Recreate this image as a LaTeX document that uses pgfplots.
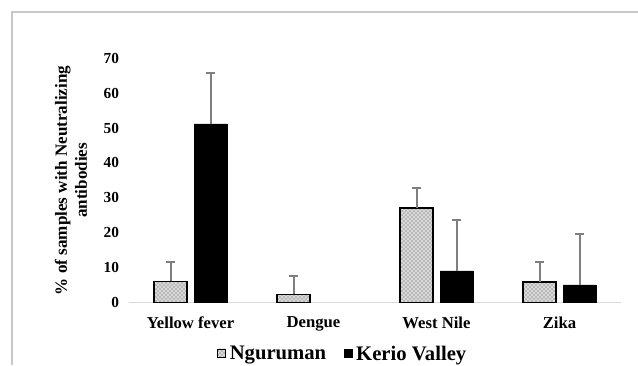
\documentclass[border=0pt]{standalone}
\usepackage{pgfplots}
\pgfplotsset{compat=1.18}
\usepackage{fontspec}
\setmainfont{Liberation Serif}
\usetikzlibrary{patterns}
\definecolor{frame}{RGB}{200,200,200}
\definecolor{errc}{RGB}{127,127,127}
\definecolor{axc}{RGB}{217,217,217}
\begin{document}
\begin{tikzpicture}
\useasboundingbox (0,0) rectangle (478.5pt,273.75pt);
\draw[frame, line width=0.9pt] (9pt,0) -- (9pt,264.75pt) -- (478.5pt,264.75pt);
\begin{axis}[
  at={(96.75pt,46.7pt)}, anchor=south west,
  scale only axis, width=369pt, height=183.5pt,
  xmin=-0.5, xmax=3.5, ymin=0, ymax=70,
  ytick={0,10,...,70},
  xtick={0,1,2,3},
  xticklabels={Yellow fever,Dengue,West Nile,Zika},
  axis lines*=left,
  y axis line style={draw=none},
  x axis line style={axc, line width=1.1pt},
  major tick length=0pt,
  yticklabel style={font=\bfseries\fontsize{11.5}{13}\selectfont, xshift=-4pt},
  xticklabel style={font=\bfseries\fontsize{12.5}{14}\selectfont, yshift=-7pt},
  /pgf/number format/assume math mode=true,
  ylabel={\% of samples with Neutralizing\\antibodies},
  ylabel style={at={(axis description cs:-0.118,0.5)}, anchor=center, align=center, font=\bfseries\fontsize{12.8}{15}\selectfont},
  ybar, bar width=24.75pt,
  legend style={at={(axis description cs:0.435,-0.2095)}, anchor=center, draw=none, fill=none,
    legend columns=2, font=\bfseries\fontsize{15.5}{17}\selectfont,
    /tikz/every even column/.append style={column sep=11pt},
    /tikz/every odd column/.append style={column sep=1pt}},
  legend cell align=left,
  legend image code/.code={\draw[#1, line width=0.5pt] (0pt,-2.2pt) rectangle (6pt,3.8pt);},
  error bars/y dir=plus, error bars/y explicit,
  error bars/error bar style={errc, line width=1.5pt},
  error bars/error mark options={errc, rotate=90, mark size=3.4pt, line width=1.5pt},
]
\addplot+[bar shift=-15pt, draw=black, line width=1.1pt, fill=gray!30, postaction={pattern=crosshatch dots, pattern color=gray!60!black}] coordinates {
  (0,6.1) +- (0,5.6)
  (1,2.4) +- (0,5.3)
  (2,27.1) +- (0,5.6)
  (3,6.0) +- (0,5.7)
};
\addplot+[bar shift=15pt, draw=black, fill=black] coordinates {
  (0,51.2) +- (0,14.6)
  (2,9.1) +- (0,14.6)
  (3,5.1) +- (0,14.7)
};
\legend{Nguruman,Kerio Valley}
\end{axis}
\end{tikzpicture}
\end{document}
